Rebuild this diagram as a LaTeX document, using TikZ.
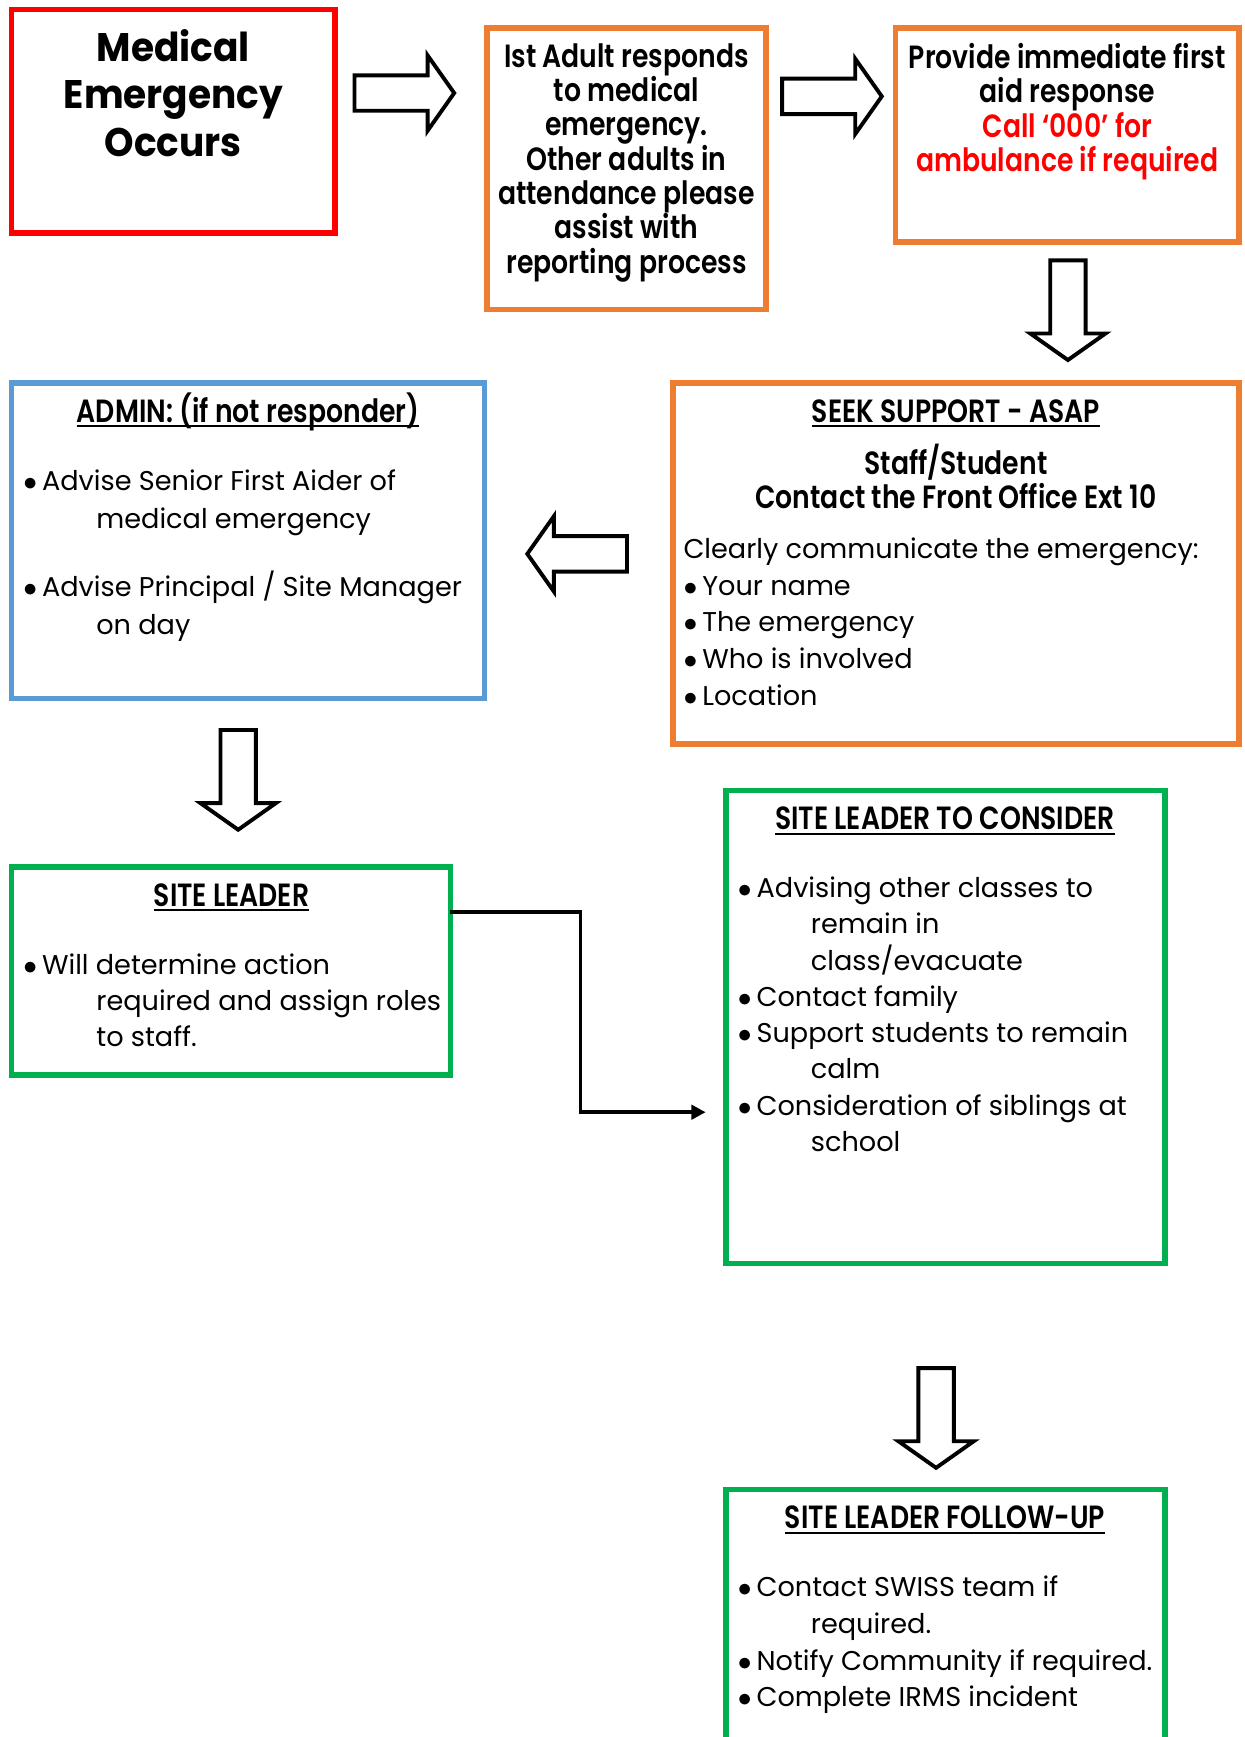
\documentclass[tikz,border=0pt]{standalone}
\usepackage{fontspec}
\setmainfont{Poppins}
\newfontfamily\cbf{Poppins SemiBold}[FakeStretch=0.83]
\newfontfamily\rbf{Poppins}[FakeStretch=0.94]
\usetikzlibrary{arrows.meta}
\definecolor{cred}{HTML}{FF0000}
\definecolor{corange}{HTML}{ED7D31}
\definecolor{cblue}{HTML}{5B9BD5}
\definecolor{cgreen}{HTML}{00B050}
\newcommand\myul[1]{\setbox0\hbox{#1}\rlap{\rule[-4.5pt]{\wd0}{2pt}}\box0}
\newcommand\bul{\makebox[17pt][l]{$\bullet$}}
\newcommand\cont{\hspace*{66pt}}
\newcommand\nols{\lineskiplimit -100pt\relax}
\begin{document}
\begin{tikzpicture}[x=1pt,y=-1pt,
  box/.style={draw=#1, line width=5pt, rectangle, fill=none, inner sep=0pt, outer sep=0pt},
  txt/.style={inner sep=0pt, outer sep=0pt},
  hb/.style={txt, font={\cbf\fontsize{29}{31}\selectfont\nols}},
  reg/.style={txt, align=left, anchor=north west, font={\fontsize{24.5}{#1}\selectfont\nols}},
  barrow/.pic={\draw[line width=3.5pt, line join=miter, fill=white]
     (0,-16) -- (66,-16) -- (66,-34) -- (90,0) -- (66,34) -- (66,16) -- (0,16) -- cycle;}
]
\useasboundingbox (0,0) rectangle (1123,1568);
\clip (0,0) rectangle (1123,1568);
\fill[white] (0,0) rectangle (1123,1568);

% boxes
\node[box=cred, minimum width=292, minimum height=202] (med) at (156.5,109.5) {};
\node[box=corange, minimum width=252, minimum height=254] (adult) at (565.5,152.5) {};
\node[box=corange, minimum width=310, minimum height=193] (aid) at (963.5,122) {};
\node[box=corange, minimum width=511, minimum height=326] (seek) at (863,508.5) {};
\node[box=cblue, minimum width=427, minimum height=285] (admin) at (224,488) {};
\node[box=cgreen, minimum width=396, minimum height=188] (sl) at (208.5,876.5) {};
\node[box=cgreen, minimum width=396, minimum height=427] (slc) at (853.5,927) {};
\node[box=cgreen, minimum width=396, minimum height=295] (slf) at (853.5,1492) {};

% block arrows
\pic at (320,84) {barrow};
\pic at (706,87) {barrow};
\pic[rotate=-90] at (964,235) {barrow};
\pic[rotate=180] at (566,500) {barrow};
\pic[rotate=-90] at (215,659) {barrow};
\pic[rotate=-90] at (845,1235) {barrow};

% connector
\coordinate (k1) at (524,823);
\coordinate (k2) at (637,1004);
\draw[line width=3.5pt, -{Triangle[length=13pt,width=13pt]}] (sl.east |- k1) -- (k1) -- (k1 |- k2) -- (k2);

% texts
\node[txt, font={\rbf\bfseries\fontsize{36}{43}\selectfont\nols}, align=center, anchor=north] (medt) at (156.5,25)
  {\strut Medical\\Emergency\\Occurs};
\node[hb, align=center, anchor=north] (adultt) at (565.5,39)
  {\strut Ist Adult responds\\to medical\\emergency.\\Other adults in\\attendance please\\assist with\\reporting process};
\node[hb, align=center, anchor=north] (aidt) at (963.5,39)
  {\strut Provide immediate first\\aid response\\\textcolor{cred}{Call ‘000’ for}\\\textcolor{cred}{ambulance if required}};

\node[hb, anchor=base] (seekh) at (863,381) {\myul{SEEK SUPPORT - ASAP}};
\node[hb, align=center, anchor=north] (seekb) at (863,400.5) {\strut Staff/Student\\Contact the Front Office Ext 10};
\node[reg=33.3] (seekt) at (617,480.5)
  {\strut Clearly communicate the emergency:\\\bul Your name\\\bul The emergency\\\bul Who is involved\\\bul Location};

\node[hb, anchor=base] (adminh) at (224,381) {\myul{ADMIN: (if not responder)}};
\node[reg=34] (admint) at (21,419)
  {\strut\bul Advise Senior First Aider of\\\cont medical emergency\\[28pt]\bul Advise Principal / Site Manager\\\cont on day};

\node[hb, anchor=base] (slh) at (209,818) {\myul{SITE LEADER}};
\node[reg=32.5] (slt) at (21,857)
  {\strut\bul Will determine action\\\cont required and assign roles\\\cont to staff.};

\node[hb, anchor=base] (slch) at (853,749) {\myul{SITE LEADER TO CONSIDER}};
\node[reg=32.7] (slct) at (666,787.5)
  {\strut\bul Advising other classes to\\\cont remain in\\\cont class/evacuate\\\bul Contact family\\\bul Support students to remain\\\cont calm\\\bul Consideration of siblings at\\\cont school};

\node[hb, anchor=base] (slfh) at (853,1380) {\myul{SITE LEADER FOLLOW-UP}};
\node[reg=33] (slft) at (666,1418.5)
  {\strut\bul Contact SWISS team if\\\cont required.\\\bul Notify Community if required.\\\bul Complete IRMS incident};
\end{tikzpicture}
\end{document}
